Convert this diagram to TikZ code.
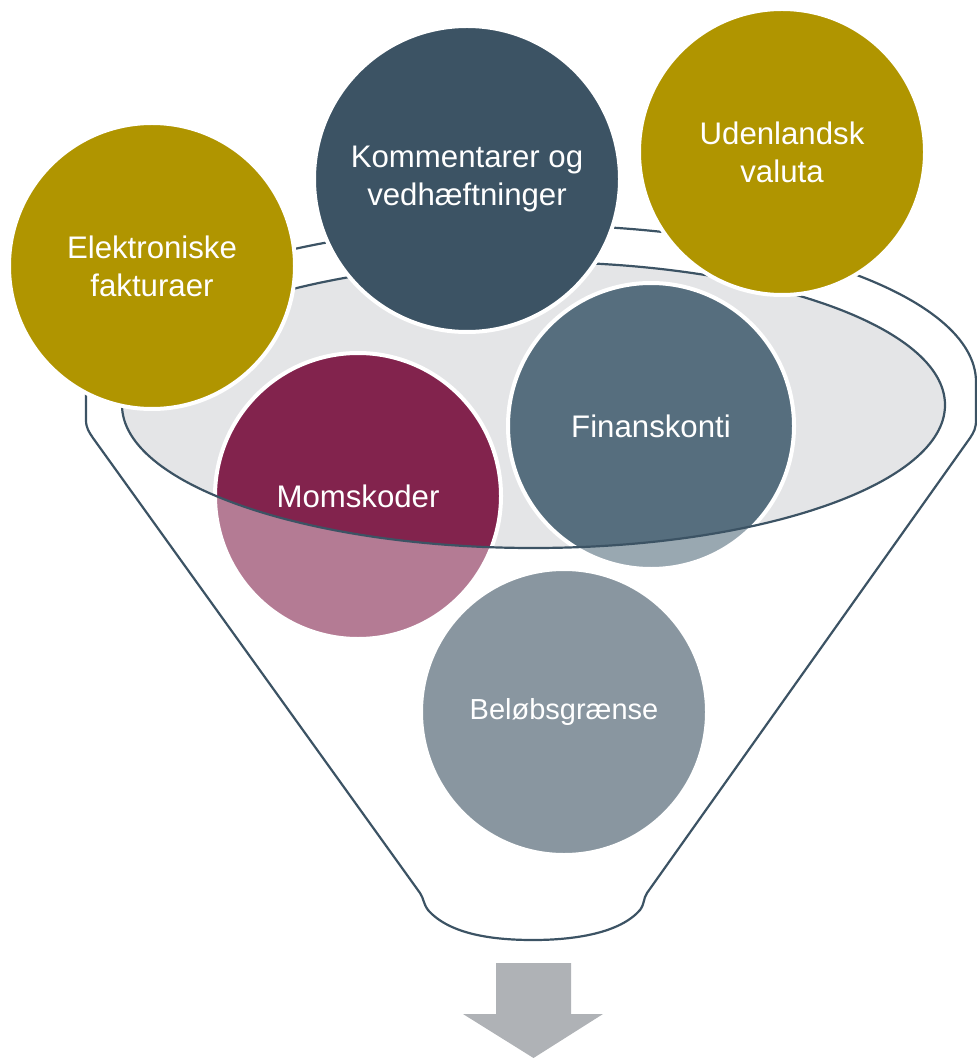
\documentclass[tikz,border=0pt]{standalone}
\usepackage{fontspec}
\setmainfont{Liberation Sans}
\definecolor{gold}{HTML}{B09500}
\definecolor{slate}{HTML}{3C5364}
\definecolor{steel}{HTML}{566E7E}
\definecolor{plum}{HTML}{82234D}
\definecolor{mist}{HTML}{8996A0}
\definecolor{bowl}{HTML}{E4E5E7}
\definecolor{arrowgrey}{HTML}{AFB2B6}
\begin{document}
\begin{tikzpicture}[x=0.5pt, y=-0.5pt,
        bubble/.style={circle, draw=white, line width=2pt, minimum size=143pt, inner sep=0pt,
            text=white, align=center, font=\fontsize{15.6}{19}\selectfont},
        small/.style={font=\fontsize{14.5}{17}\selectfont},
        rim/.style={draw=slate, line width=1.1pt},
        ]
        \useasboundingbox (0,0) rectangle (976,1058);
        % opening of the funnel
        \fill[bowl] (533.5,405) ellipse [x radius=411.5, y radius=143];
        \node[bubble, fill=plum] (moms) at (358,496) {Momskoder};
        \node[bubble, fill=steel] (finans) at (651,426) {Finanskonti};
        % front of the funnel lightens what sinks into it
        \fill[white, opacity=0.4, even odd rule]
            (86,382) -- (86,420) .. controls (86,428) and (89,432) .. (93,438)
            -- (420,893) .. controls (424,899) and (423,903) .. (428,910)
            .. controls (450,935) and (495,940) .. (533,940)
            .. controls (575,940) and (620,933) .. (640,910)
            .. controls (645,903) and (643,899) .. (647,893)
            -- (970,438) .. controls (974,432) and (976,428) .. (976,420)
            -- (976,382) arc [start angle=0, end angle=-180, x radius=445, y radius=157] -- cycle
            (533.5,405) ellipse [x radius=411.5, y radius=143];
        \draw[rim] (533.5,405) ellipse [x radius=411.5, y radius=143];
        \draw[rim] (86,382) -- (86,420) .. controls (86,428) and (89,432) .. (93,438)
            -- (420,893) .. controls (424,899) and (423,903) .. (428,910)
            .. controls (450,935) and (495,940) .. (533,940)
            .. controls (575,940) and (620,933) .. (640,910)
            .. controls (645,903) and (643,899) .. (647,893)
            -- (970,438) .. controls (974,432) and (976,428) .. (976,420)
            -- (976,382) arc [start angle=0, end angle=-180, x radius=445, y radius=157] -- cycle;
        \node[bubble, small, fill=mist] (graense) at (564,712) {Beløbsgrænse};
        % items falling in
        \node[bubble, fill=gold] (efaktura) at (152,266) {Elektroniske\\fakturaer};
        \node[bubble, fill=slate, minimum size=153pt] (komm) at (467,179) {Kommentarer og\\vedhæftninger};
        \node[bubble, fill=gold] (valuta) at (782,152) {Udenlandsk\\valuta};
        % result
        \fill[arrowgrey] (496,963) -- (571,963) -- (571,1014) -- (603,1014)
            -- (533.5,1058) -- (463,1014) -- (496,1014) -- cycle;
\end{tikzpicture}
\end{document}
